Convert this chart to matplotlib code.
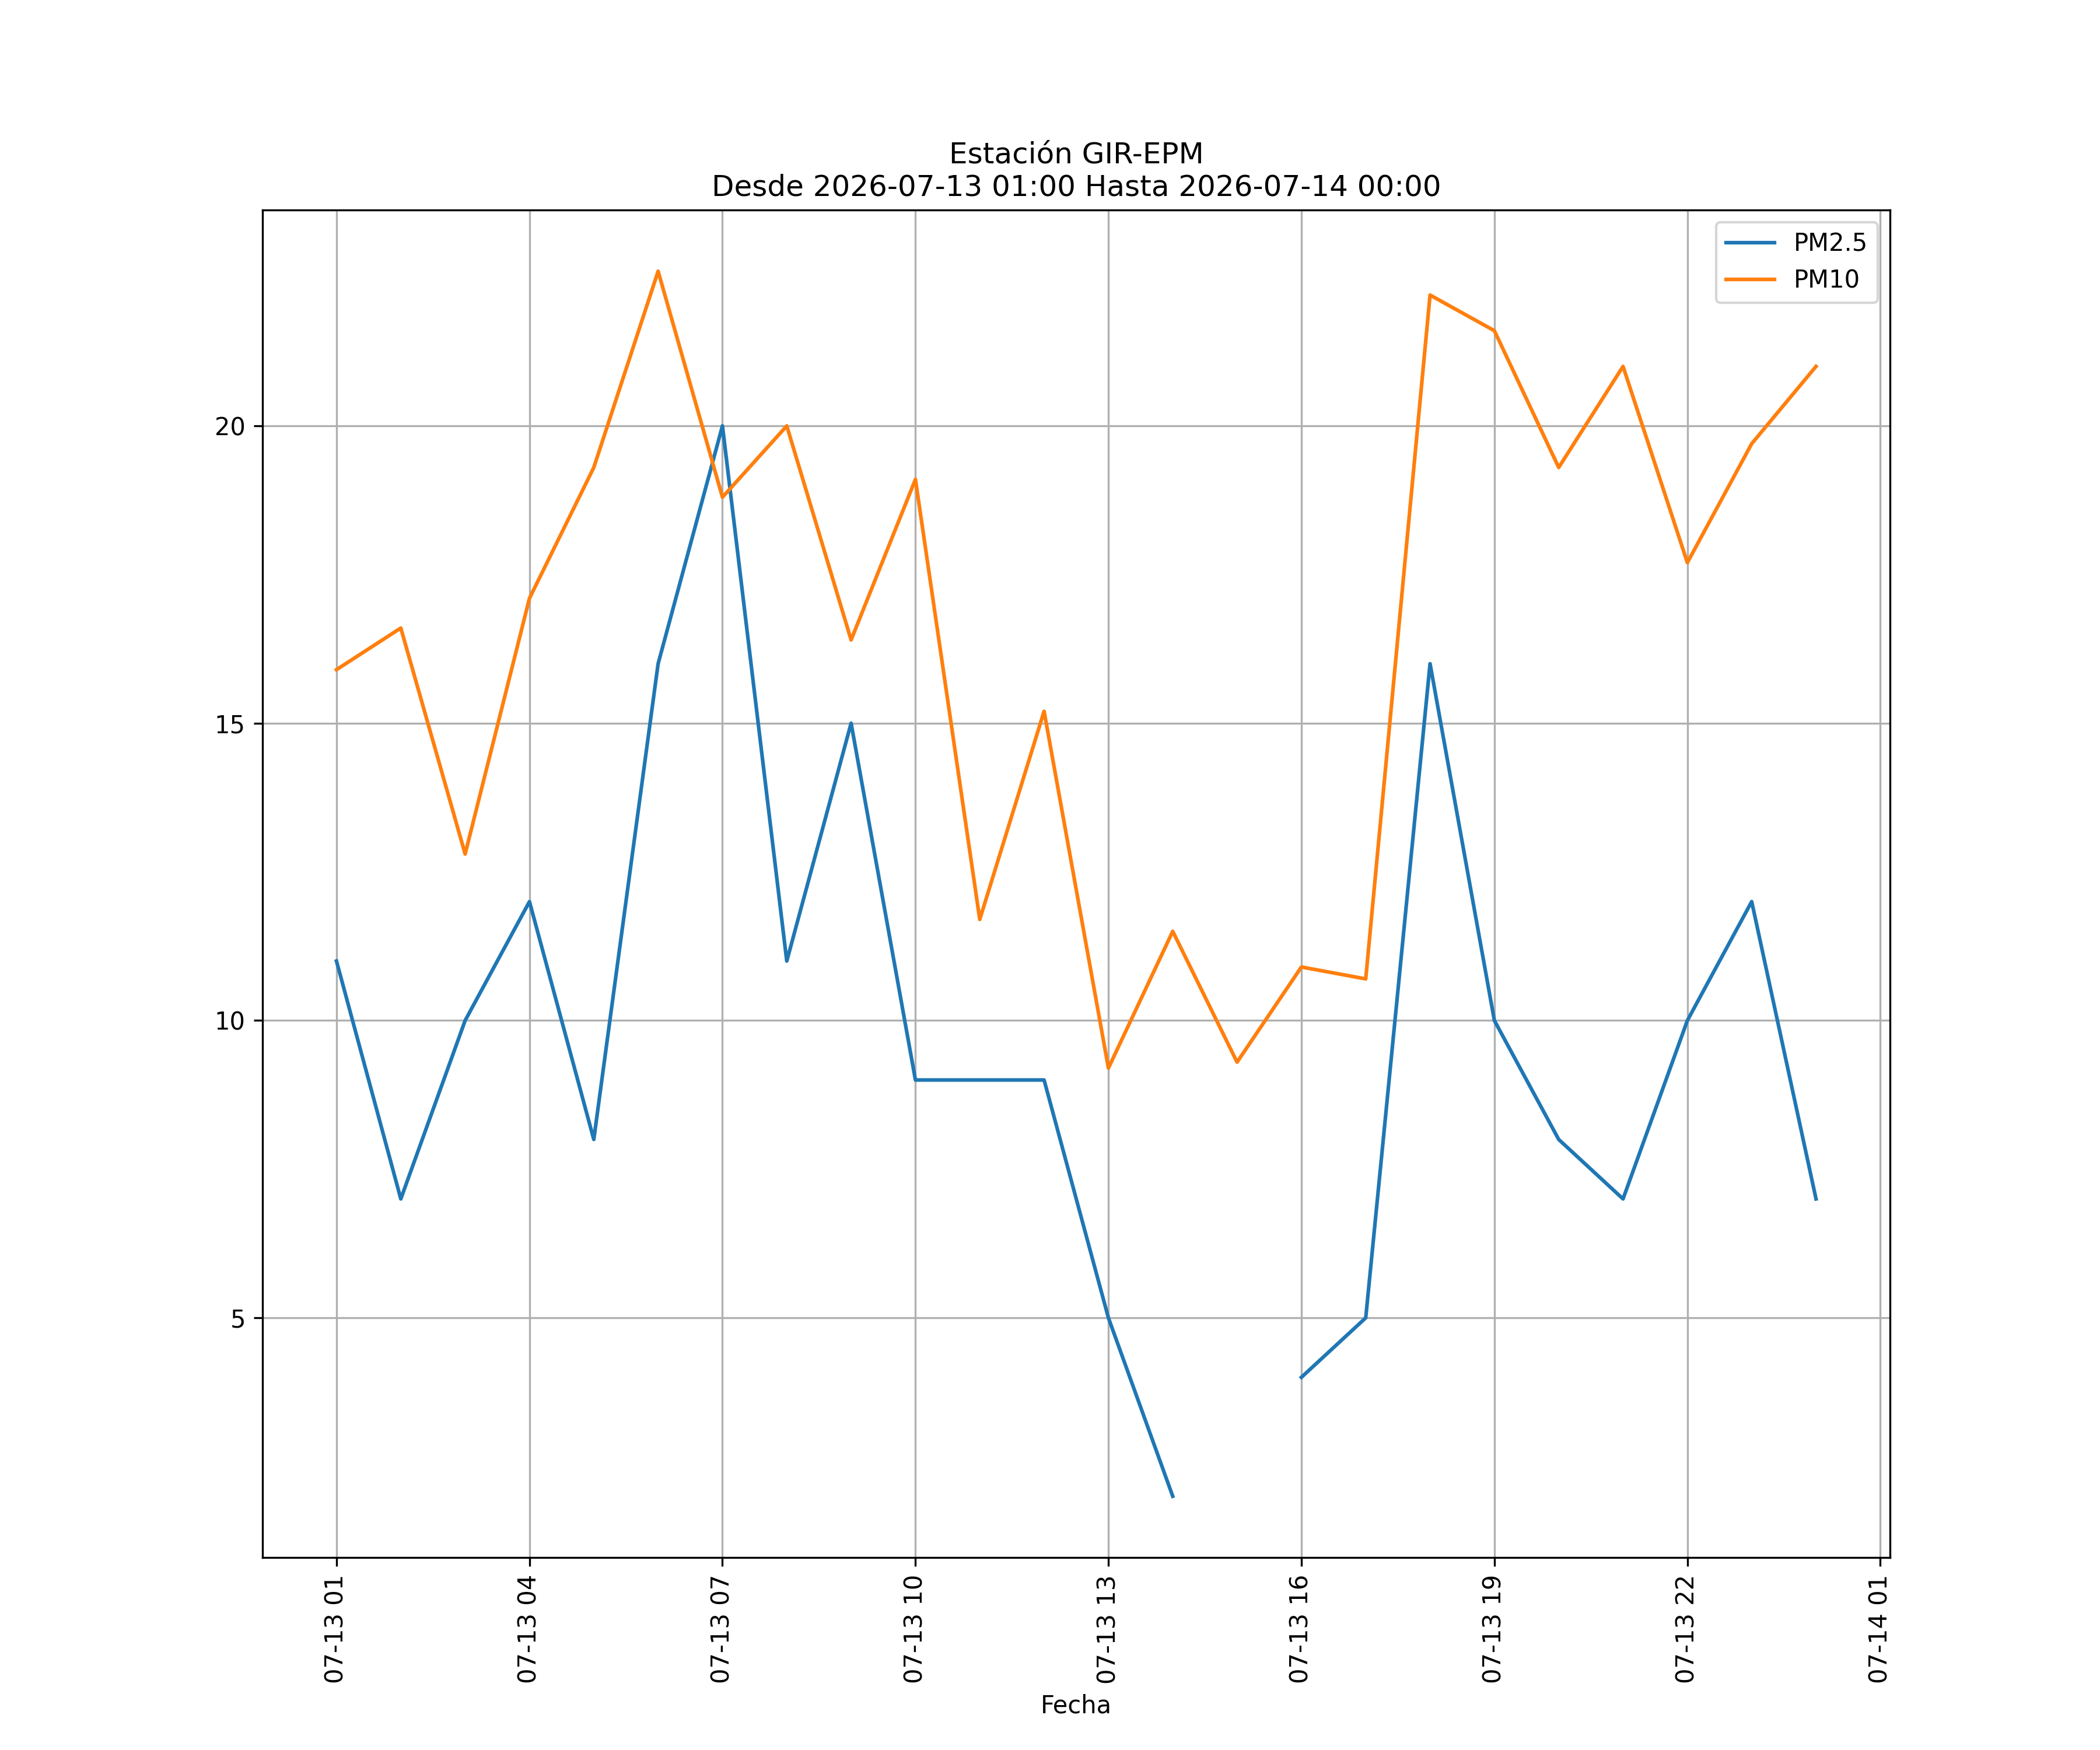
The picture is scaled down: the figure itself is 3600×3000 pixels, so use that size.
import matplotlib
matplotlib.use("Agg")
import matplotlib.pyplot as plt
import matplotlib.dates as mdates
import numpy as np
import pandas as pd

fechas = pd.date_range("2026-07-13 01:00", "2026-07-14 00:00", freq="h")
pm25 = [11, 7, 10, 12, 8, 16, 20, 11, 15, 9, 9, 9, 5, 2, np.nan, 4, 5, 16,
        10, 8, 7, 10, 12, 7]
pm10 = [15.9, 16.6, 12.8, 17.1, 19.3, 22.6, 18.8, 20.0, 16.4, 19.1, 11.7, 15.2,
        9.2, 11.5, 9.3, 10.9, 10.7, 22.2, 21.6, 19.3, 21.0, 17.7, 19.7, 21.0]

fig, ax = plt.subplots(figsize=(12, 10), dpi=300)
ax.plot(fechas, pm25, label="PM2.5")
ax.plot(fechas, pm10, label="PM10")
ax.set_title("Estación GIR-EPM\nDesde 2026-07-13 01:00 Hasta 2026-07-14 00:00")
ax.set_xlabel("Fecha")
ax.xaxis.set_major_locator(mdates.HourLocator(byhour=range(1, 24, 3)))
ax.xaxis.set_major_formatter(mdates.DateFormatter("%m-%d %H"))
plt.setp(ax.get_xticklabels(), rotation=90)
ax.grid(True)
ax.legend(loc="upper right")
fig.savefig("out.png")
